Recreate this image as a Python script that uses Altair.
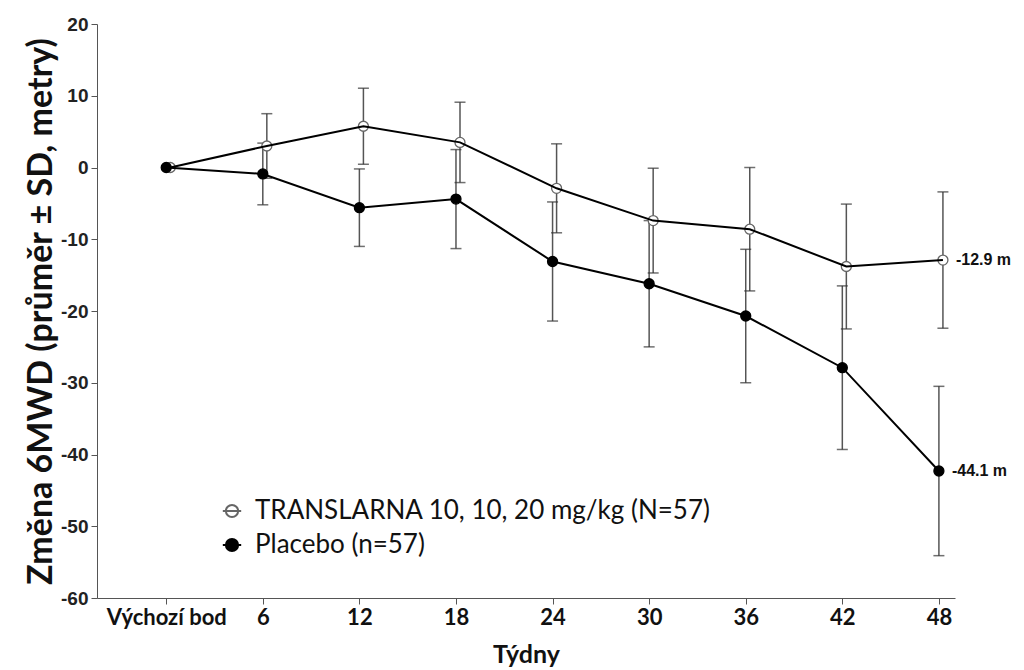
import altair as alt
import pandas as pd

weeks = [0, 6, 12, 18, 24, 30, 36, 42, 48]
week_labels = ["Výchozí bod", "6", "12", "18", "24", "30", "36", "42", "48"]
series_names = ["TRANSLARNA 10, 10, 20 mg/kg (N=57)", "Placebo (n=57)"]
tr_mean = [0.0, 3.0, 5.75, 3.5, -2.9, -7.4, -8.6, -13.8, -12.9]
tr_sd = [0.0, 4.5, 5.3, 5.6, 6.2, 7.3, 8.6, 8.7, 9.5]
pl_mean = [0.0, -0.9, -5.6, -4.4, -13.1, -16.2, -20.7, -27.9, -42.3]
pl_sd = [0.0, 4.3, 5.4, 6.9, 8.3, 8.8, 9.3, 11.4, 11.8]
end_values = [-12.9, -42.3]
end_labels = ["-12.9 m", "-44.1 m"]
y_ticks = [-60, -50, -40, -30, -20, -10, 0, 10, 20]

rows = []
for name, means, sds in [(series_names[0], tr_mean, tr_sd), (series_names[1], pl_mean, pl_sd)]:
    for w, m, s in zip(weeks, means, sds):
        rows.append({"series": name, "week": w, "mean": m, "sd": s})
df = pd.DataFrame(rows)

end_df = pd.DataFrame({"series": series_names, "week": [48, 48], "mean": end_values, "label": end_labels})

expr = "''"
for w, lab in reversed(list(zip(weeks, week_labels))):
    expr = f"datum.value == {w} ? '{lab}' : ({expr})"

dodge = f"datum.series == '{series_names[0]}' ? datum.week + 0.25 : datum.week"

x_enc = alt.X(
    "xpos:Q",
    scale=alt.Scale(domain=[-4.3, 49], nice=False, zero=False),
    axis=alt.Axis(
        values=weeks, labelExpr=expr, title="Týdny", grid=False,
        labelFont="Lato", labelFontWeight="bold", labelFontSize=22,
        labelColor="#111", titleFont="Lato", titleFontWeight="bold",
        titleFontSize=25, titleColor="#111", titlePadding=14,
        domainColor="#555", tickColor="#555", tickSize=6, labelPadding=3,
        labelOverlap=False, labelFlush=False,
    ),
)
y_scale = alt.Scale(domain=[-60, 20], nice=False, zero=False)
y_axis = alt.Axis(
    values=y_ticks, labelExpr="datum.value", title="Změna 6MWD (průměr ± SD, metry)",
    grid=False, labelFont="Liberation Sans", labelFontWeight="bold", labelFontSize=19,
    labelColor="#222", titleFont="Lato", titleFontWeight="bold", titleFontSize=34,
    titleColor="#111", titlePadding=2, domainColor="#555", tickColor="#555",
    tickSize=6, labelPadding=3,
)

base = alt.Chart(df).transform_calculate(
    xpos=dodge, lo="datum.mean - datum.sd", hi="datum.mean + datum.sd"
)

bars = base.transform_filter("datum.sd > 0").mark_rule(color="#555", strokeWidth=1.5).encode(
    x=x_enc,
    y=alt.Y("lo:Q", scale=y_scale, axis=y_axis),
    y2="hi:Q",
)
cap_hi = base.transform_filter("datum.sd > 0").mark_tick(
    orient="horizontal", color="#333", size=11, thickness=1.5
).encode(x="xpos:Q", y="hi:Q")
cap_lo = base.transform_filter("datum.sd > 0").mark_tick(
    orient="horizontal", color="#333", size=11, thickness=1.5
).encode(x="xpos:Q", y="lo:Q")

legend = alt.Legend(
    title=None, orient="none", legendX=122, legendY=474,
    labelFont="Lato", labelFontSize=26, labelColor="#111", labelLimit=700,
    symbolType="M-1.5,0L1.5,0M-1,0A1,1 0 1,1 1,0A1,1 0 1,1 -1,0Z",
    symbolSize=150, symbolStrokeWidth=2, rowPadding=8, labelOffset=10,
)
points = base.mark_point(filled=False, size=100, strokeWidth=1.3, opacity=1).encode(
    x="xpos:Q",
    y=alt.Y("mean:Q"),
    fill=alt.Fill("series:N", scale=alt.Scale(domain=series_names, range=["white", "black"]), legend=legend),
    stroke=alt.Stroke("series:N", scale=alt.Scale(domain=series_names, range=["#666", "black"]), legend=legend),
)
lines = base.mark_line(color="black", strokeWidth=2).encode(
    x="xpos:Q", y="mean:Q", detail="series:N"
)
ends = alt.Chart(end_df).transform_calculate(xpos=dodge).mark_text(
    align="left", baseline="middle", dx=13, font="Liberation Sans", fontWeight="bold",
    fontSize=16, color="#111",
).encode(x="xpos:Q", y="mean:Q", text="label:N")

chart = alt.layer(bars, cap_hi, cap_lo, points, lines, ends).properties(
    width=858, height=574,
    padding={"left": 97, "top": 24, "right": 69, "bottom": 72},
    autosize=alt.AutoSizeParams(type="none"),
).configure_view(stroke=None)

chart.save("out.html", embed_options={"renderer": "svg", "actions": False})
